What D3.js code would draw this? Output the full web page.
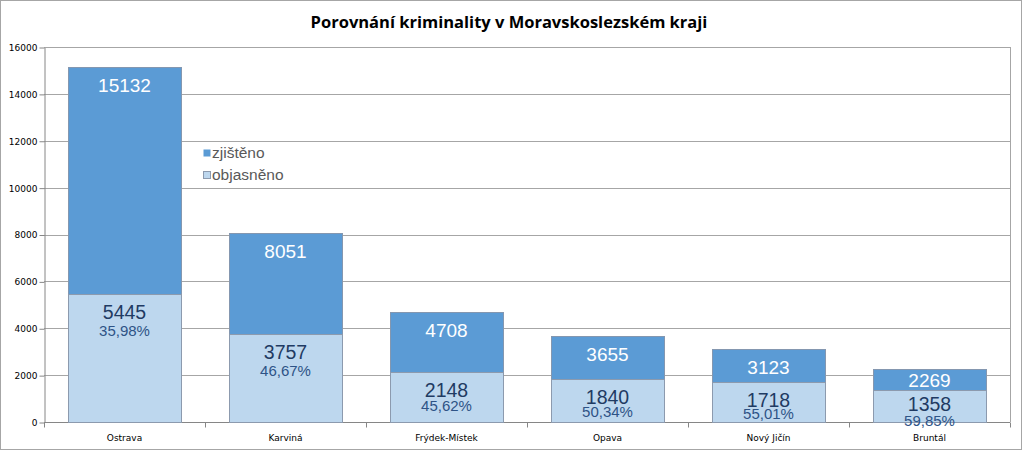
<!DOCTYPE html>
<html>
<head>
<meta charset="utf-8">
<script src="https://cdn.jsdelivr.net/npm/d3@7"></script>
<style>
  body { margin: 0; background: #fff; }
  svg { display: block; }
</style>
</head>
<body>
<div id="chart"></div>
<script>
const title = "Porovnání kriminality v Moravskoslezském kraji";
const districts = ["Ostrava", "Karviná", "Frýdek-Místek", "Opava", "Nový Jičín", "Bruntál"];
const detected = [15132, 8051, 4708, 3655, 3123, 2269];
const solved = [5445, 3757, 2148, 1840, 1718, 1358];
const solvedPct = ["35,98%", "46,67%", "45,62%", "50,34%", "55,01%", "59,85%"];
const yTicks = [0, 2000, 4000, 6000, 8000, 10000, 12000, 14000, 16000];
const legendLabels = ["zjištěno", "objasněno"];

const width = 1023, height = 451;
const margin = { top: 47, right: 13, bottom: 29, left: 44 };
const darkBlue = "#5b9bd5", lightBlue = "#bdd7ee";

const svg = d3.select("#chart").append("svg")
  .attr("width", width)
  .attr("height", height);

// chart border
svg.append("rect")
  .attr("x", 0.5).attr("y", 0.5)
  .attr("width", width - 2).attr("height", height - 2)
  .attr("fill", "#fff")
  .attr("stroke", "#a6a6a6");

svg.append("text")
  .attr("x", 509).attr("y", 28)
  .attr("text-anchor", "middle")
  .style("font", "bold 16.5px 'Open Sans', sans-serif")
  .attr("fill", "#000")
  .text(title);

const x = d3.scaleBand()
  .domain(districts)
  .range([margin.left, width - margin.right])
  .paddingInner(0.3)
  .paddingOuter(0.15);

const y = d3.scaleLinear()
  .domain([0, 16000])
  .range([height - margin.bottom, margin.top]);

// gridlines
svg.append("g")
  .selectAll("line")
  .data(yTicks.slice(1))
  .join("line")
  .attr("x1", margin.left).attr("x2", width - margin.right)
  .attr("y1", d => Math.round(y(d)) + 0.5).attr("y2", d => Math.round(y(d)) + 0.5)
  .attr("stroke", "#a6a6a6");

// plot right edge
svg.append("line")
  .attr("x1", width - margin.right + 0.5).attr("x2", width - margin.right + 0.5)
  .attr("y1", margin.top).attr("y2", height - margin.bottom)
  .attr("stroke", "#a6a6a6");

// y axis
const yAxis = svg.append("g")
  .attr("transform", `translate(${margin.left + 0.5},0.5)`)
  .call(d3.axisLeft(y).tickValues(yTicks).tickSize(5).tickSizeOuter(0).tickFormat(d3.format("d")));
yAxis.selectAll("path, line").attr("stroke", "#868686");
yAxis.selectAll("text")
  .attr("x", -7)
  .style("font", "9px 'DejaVu Sans', sans-serif")
  .attr("fill", "#000");

// x axis with ticks at band boundaries
const xAxisG = svg.append("g")
  .attr("transform", `translate(0,${Math.round(y(0)) + 0.5})`);
xAxisG.append("line")
  .attr("x1", margin.left).attr("x2", width - margin.right)
  .attr("stroke", "#868686");
const step = x.step();
const bounds = districts.map((d, i) => margin.left + i * step).concat([width - margin.right]);
xAxisG.selectAll("line.tick")
  .data(bounds)
  .join("line")
  .attr("class", "tick")
  .attr("x1", d => Math.round(d) + 0.5).attr("x2", d => Math.round(d) + 0.5)
  .attr("y1", 0).attr("y2", 5)
  .attr("stroke", "#868686");
xAxisG.selectAll("text")
  .data(districts)
  .join("text")
  .attr("x", d => x(d) + x.bandwidth() / 2)
  .attr("y", 18)
  .attr("text-anchor", "middle")
  .style("font", "9px 'DejaVu Sans', sans-serif")
  .attr("fill", "#000")
  .text(d => d);

// bars (overlaid, not stacked)
const bars = svg.append("g");
bars.selectAll("rect.det")
  .data(districts)
  .join("rect")
  .attr("class", "det")
  .attr("x", d => Math.round(x(d)) + 0.5)
  .attr("y", (d, i) => Math.round(y(detected[i])) + 0.5)
  .attr("width", Math.round(x.bandwidth()))
  .attr("height", (d, i) => Math.round(y(0)) - Math.round(y(detected[i])))
  .attr("fill", darkBlue)
  .attr("stroke", "#8497b0");
bars.selectAll("rect.sol")
  .data(districts)
  .join("rect")
  .attr("class", "sol")
  .attr("x", d => Math.round(x(d)) + 0.5)
  .attr("y", (d, i) => Math.round(y(solved[i])) + 0.5)
  .attr("width", Math.round(x.bandwidth()))
  .attr("height", (d, i) => Math.round(y(0)) - Math.round(y(solved[i])))
  .attr("fill", lightBlue)
  .attr("stroke", "#8c9aae");

// labels; the solved label block gets squeezed on short bars
const solvedH = i => y(0) - y(solved[i]);
const labels = svg.append("g").attr("text-anchor", "middle");
labels.selectAll("text.det")
  .data(districts)
  .join("text")
  .attr("x", d => x(d) + x.bandwidth() / 2)
  .attr("y", (d, i) => Math.min(y(detected[i]) + 25, y(solved[i]) - 3))
  .style("font", "19px 'Liberation Sans', Arial, sans-serif")
  .attr("fill", "#fff")
  .text((d, i) => detected[i]);
labels.selectAll("text.sol")
  .data(districts)
  .join("text")
  .attr("x", d => x(d) + x.bandwidth() / 2)
  .attr("y", (d, i) => y(solved[i]) + Math.min(18, solvedH(i) * 0.45) + 7)
  .style("font", "19.5px 'Liberation Sans', Arial, sans-serif")
  .attr("fill", "#1f3b63")
  .text((d, i) => solved[i]);
labels.selectAll("text.pct")
  .data(districts)
  .join("text")
  .attr("x", d => x(d) + x.bandwidth() / 2)
  .attr("y", (d, i) => y(solved[i]) + Math.min(36.5, 25 + solvedH(i) * 0.17) + 5.5)
  .style("font", "15px 'Liberation Sans', Arial, sans-serif")
  .attr("fill", "#2e5386")
  .text((d, i) => solvedPct[i]);

// legend
const legend = svg.append("g").attr("transform", "translate(203,149)");
const legendColors = [darkBlue, lightBlue];
legendLabels.forEach((label, i) => {
  const g = legend.append("g").attr("transform", `translate(0,${i * 22})`);
  g.append("rect")
    .attr("x", 0.5).attr("y", 0.5)
    .attr("width", 7).attr("height", 7)
    .attr("fill", legendColors[i])
    .attr("stroke", i === 1 ? "#8c9aae" : "none");
  g.append("text")
    .attr("x", 9).attr("y", 9)
    .style("font", "15.5px 'Liberation Sans', Arial, sans-serif")
    .attr("fill", "#595959")
    .text(label);
});
</script>
</body>
</html>
